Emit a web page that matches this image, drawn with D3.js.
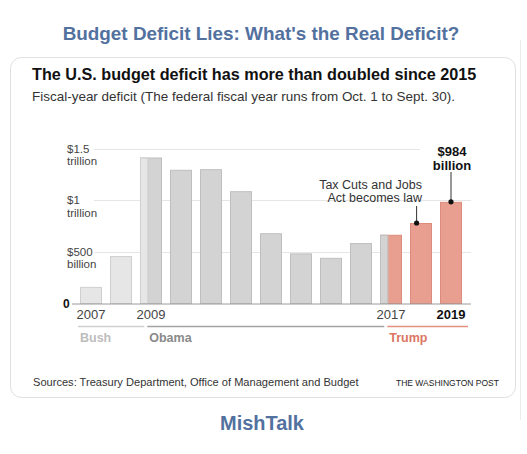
<!DOCTYPE html>
<html><head><meta charset="utf-8">
<script src="https://cdn.jsdelivr.net/npm/d3@7"></script>
<style>
html,body{margin:0;padding:0;background:#fff;}
svg{display:block;font-family:"Liberation Sans",Arial,sans-serif;}
</style></head>
<body><svg id="c" width="527" height="454"></svg>
<script>
// ---- data ----
const years = [2007,2008,2009,2010,2011,2012,2013,2014,2015,2016,2017,2018,2019];
const deficits = [161,459,1413,1294,1300,1087,680,485,442,585,665,779,984]; // $ billions
const owner = ["Bush","Bush","Obama","Obama","Obama","Obama","Obama","Obama","Obama","Obama","Trump","Trump","Trump"];
const splitYears = [2009, 2017];          // years shared by two presidents
const splitPrior = ["Bush","Obama"];      // president owning the first months
const yTicks = [0,500,1000,1500];
const yTickLines = [["0"],["$500","billion"],["$1","trillion"],["$1.5","trillion"]];
const xLabelYears = [2007,2009,2017,2019];
const presidents = ["Bush","Obama","Trump"];
const termStart = [2007, 2009.33, 2017.33];
const termEnd = [2009.33, 2017.33, 2020];

const fills = {Bush:"#e6e6e6", Obama:"#d3d3d3", Trump:"#e89f8f"};
const strokes = {Bush:"#cfcfcf", Obama:"#bfbfbf", Trump:"#db8c7b"};
const segCol = {Bush:"#d0d0d0", Obama:"#a3a3a3", Trump:"#e3907f"};
const labCol = {Bush:"#bdbdbd", Obama:"#8a8a8a", Trump:"#dc7563"};

const svg = d3.select("#c");
svg.append("rect").attr("width",527).attr("height",454).attr("fill","#fff");

function fit(sel, w){
  const fs = parseFloat(sel.attr("font-size"));
  const len = sel.node().getComputedTextLength();
  sel.attr("font-size", (fs*w/len).toFixed(2));
  return sel;
}

// page header
fit(svg.append("text").attr("x",261).attr("y",39.5).attr("text-anchor","middle")
  .attr("font-size",18).attr("font-weight","bold").attr("fill","#52719f")
  .text("Budget Deficit Lies: What's the Real Deficit?"), 397);

// card
svg.append("line").attr("x1",520.5).attr("x2",520.5).attr("y1",40).attr("y2",420).attr("stroke","#ececec");
svg.append("rect").attr("x",10.5).attr("y",57.5).attr("width",505).attr("height",340).attr("rx",11)
  .attr("fill","#fff").attr("stroke","#e0e0e0");

fit(svg.append("text").attr("x",32).attr("y",79.5).attr("font-size",18).attr("font-weight","bold")
  .attr("fill","#111").text("The U.S. budget deficit has more than doubled since 2015"), 445);
fit(svg.append("text").attr("x",32).attr("y",100.5).attr("font-size",13).attr("fill","#333")
  .text("Fiscal-year deficit (The federal fiscal year runs from Oct. 1 to Sept. 30)."), 423);

// scales
const x = d3.scaleBand().domain(years).range([80,462]).paddingInner(0.2667).paddingOuter(0);
const y = d3.scaleLinear().domain([0,1500]).range([303.5,148.5]);
const bw = x.bandwidth();
const fx = v => { const yr = Math.floor(v); const xx = x(Math.min(yr, 2019)); return xx + (v-yr)*bw + (yr>2019 ? x.step() : 0); };

// gridlines
const g = svg.append("g");
g.selectAll("line.grid").data(yTicks.filter(d=>d>0)).join("line")
  .attr("x1",94).attr("x2",d=>d===1500?420:471)
  .attr("y1",d=>Math.round(y(d))+0.5).attr("y2",d=>Math.round(y(d))+0.5)
  .attr("stroke","#e6e6e6");

// y labels
yTicks.forEach((t,i)=>{
  const lines = yTickLines[i];
  const tx = g.append("text").attr("x", t===0?63:67).attr("fill", t===0?"#111":"#444")
    .attr("font-size", t===0?12:11.5).attr("font-weight", t===0?"bold":"normal");
  lines.forEach((l,j)=>{
    tx.append("tspan").attr("x", t===0?63:67).attr("y", y(t)+4 + j*12.5).text(l);
  });
});

// bars
const bars = g.selectAll("g.bar").data(years).join("g");
bars.append("rect")
  .attr("x",d=>x(d)+0.5).attr("width",bw-1)
  .attr("y",(d,i)=>y(deficits[i])+0.5).attr("height",(d,i)=>y(0)-y(deficits[i])-0.5)
  .attr("fill",(d,i)=>fills[owner[i]]).attr("stroke",(d,i)=>strokes[owner[i]]);
splitYears.forEach((yr,k)=>{
  const i = years.indexOf(yr);
  g.append("rect").attr("x",x(yr)+0.5).attr("width",bw/3)
    .attr("y",y(deficits[i])+0.5).attr("height",y(0)-y(deficits[i])-0.5)
    .attr("fill",fills[splitPrior[k]]).attr("stroke",strokes[splitPrior[k]]);
});

// baseline
g.append("line").attr("x1",72).attr("x2",471).attr("y1",304).attr("y2",304).attr("stroke","#9a9a9a");

// x labels
xLabelYears.forEach(yr=>{
  g.append("text").attr("x",x(yr)+bw/2).attr("y",319).attr("text-anchor","middle")
    .attr("font-size",13).attr("fill", yr===2019?"#111":"#444")
    .attr("font-weight", yr===2019?"bold":"normal").text(yr);
});

// presidency segments
presidents.forEach((p,i)=>{
  const x1 = i===0 ? x(years[0])-2 : fx(termStart[i]);
  const x2 = i===presidents.length-1 ? x(2019)+bw+6 : fx(termEnd[i]) - 3;
  g.append("line").attr("x1",x1).attr("x2",x2).attr("y1",326.5).attr("y2",326.5)
    .attr("stroke",segCol[p]).attr("stroke-width",1.3);
  g.append("text").attr("x",x1+2).attr("y",341.5).attr("font-size",12.5).attr("font-weight","bold")
    .attr("fill",labCol[p]).text(p);
});

// annotations
const i18 = years.indexOf(2018), i19 = years.indexOf(2019);
const ax = x(2018)+bw*0.3, ay = y(deficits[i18]);
g.append("line").attr("x1",ax).attr("x2",ax).attr("y1",ay).attr("y2",206).attr("stroke","#333");
g.append("circle").attr("cx",ax).attr("cy",ay).attr("r",2.6).attr("fill","#111");
const at = g.append("text").attr("font-size",12.5).attr("fill","#333").attr("text-anchor","end");
at.append("tspan").attr("x",422).attr("y",188.5).text("Tax Cuts and Jobs");
at.append("tspan").attr("x",422).attr("y",202).text("Act becomes law");

const bx = x(2019)+bw/2, by = y(deficits[i19]);
g.append("line").attr("x1",bx).attr("x2",bx).attr("y1",by).attr("y2",172).attr("stroke","#333");
g.append("circle").attr("cx",bx).attr("cy",by).attr("r",2.6).attr("fill","#111");
g.append("text").attr("x",bx+1).attr("y",155.5).attr("font-size",13).attr("font-weight","bold")
  .attr("fill","#111").attr("text-anchor","middle").text("$" + deficits[i19]);
g.append("text").attr("x",bx+1).attr("y",169.5).attr("font-size",13).attr("font-weight","bold")
  .attr("fill","#111").attr("text-anchor","middle").text("billion");

// footer
fit(svg.append("text").attr("x",33).attr("y",385.5).attr("font-size",12).attr("fill","#333")
  .text("Sources: Treasury Department, Office of Management and Budget"), 326);
fit(svg.append("text").attr("x",396).attr("y",385.5).attr("font-size",10).attr("fill","#222")
  .text("THE WASHINGTON POST"), 103);

fit(svg.append("text").attr("x",262).attr("y",430).attr("text-anchor","middle")
  .attr("font-size",19).attr("font-weight","bold").attr("fill","#52719f").text("MishTalk"), 84);
</script></body></html>
